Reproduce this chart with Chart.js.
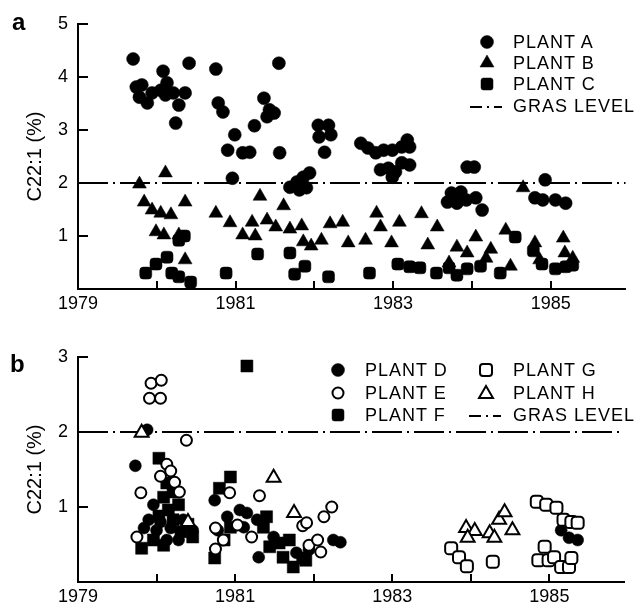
<!DOCTYPE html>
<html><head><meta charset="utf-8">
<script src="https://cdn.jsdelivr.net/npm/chart.js@4/dist/chart.umd.min.js"></script>
<style>
html,body{margin:0;padding:0;background:#fff;}
#wrap{position:relative;width:634px;height:605px;overflow:hidden;font-family:"Liberation Sans",Arial,Helvetica,sans-serif;color:#000;}
canvas{position:absolute;left:0;}
#ca{top:0;} #cb{top:320px;}
.lbl{position:absolute;font-size:18px;line-height:18px;letter-spacing:1px;white-space:nowrap;}
.panel{position:absolute;font-weight:bold;font-size:24px;line-height:24px;}
svg.m{position:absolute;left:0;top:0;overflow:visible;pointer-events:none;}
</style></head><body>
<div id="wrap">
<canvas id="ca" width="634" height="320"></canvas>
<canvas id="cb" width="634" height="285"></canvas>
<div class="panel" style="left:12px;top:10px;">a</div>
<div class="panel" style="left:10px;top:352px;">b</div>
<svg class="m" id="legsvg" width="634" height="605"></svg>
</div>
<script>
// ---------- DATA ----------
const xRange = [1979, 1985.95];
const grasLevel = 2;
const xTickValues = [1979, 1980, 1981, 1982, 1983, 1984, 1985];
const xTickLabels = [1979, 1981, 1983, 1985];
const yTicksA = [0, 1, 2, 3, 4, 5];
const yTicksB = [0, 1, 2, 3];
const yTitle = 'C22:1 (%)';

// Panel a
const plantA_x = [1979.70,1980.08,1980.41,1979.74,1979.81,1979.78,1979.88,1979.94,1980.05,1980.13,1980.11,1980.21,1980.28,1980.36,1980.24,1980.75,1980.78,1980.84,1980.90,1980.99,1980.96,1981.09,1981.18,1981.24,1981.36,1981.43,1981.49,1981.40,1981.55,1981.56,1981.69,1981.78,1981.86,1981.94,1981.81,1981.90,1982.05,1982.18,1982.21,1982.06,1982.13,1982.59,1982.68,1982.78,1982.88,1982.99,1983.18,1983.21,1983.11,1982.84,1982.94,1983.03,1983.11,1983.21,1982.99,1983.94,1984.03,1983.74,1983.86,1983.69,1983.81,1983.93,1984.05,1984.13,1984.93,1984.80,1984.90,1985.06,1985.19];
const plantA_y = [4.34,4.11,4.26,3.81,3.85,3.62,3.51,3.70,3.75,3.89,3.66,3.70,3.47,3.70,3.13,4.15,3.51,3.34,2.62,2.91,2.09,2.57,2.58,3.08,3.60,3.38,3.32,3.25,4.26,2.57,1.92,2.02,2.11,2.19,1.87,1.91,3.09,3.09,2.91,2.87,2.58,2.75,2.66,2.57,2.62,2.62,2.81,2.68,2.68,2.25,2.28,2.21,2.38,2.34,2.11,2.30,2.30,1.81,1.83,1.64,1.62,1.68,1.72,1.49,2.06,1.72,1.68,1.68,1.62];
const plantB_x = [1979.78,1980.11,1979.84,1979.94,1980.05,1980.18,1980.36,1979.99,1980.09,1980.28,1980.36,1980.75,1980.93,1981.09,1981.21,1981.25,1981.31,1981.40,1981.51,1981.61,1981.69,1981.84,1981.86,1981.96,1982.09,1982.20,1982.36,1982.43,1982.65,1982.79,1982.84,1982.98,1983.08,1983.36,1983.44,1983.56,1983.81,1983.94,1984.05,1984.24,1984.18,1983.71,1984.43,1984.49,1984.65,1984.80,1984.86,1985.16,1985.18,1985.28];
const plantB_y = [1.98,2.19,1.64,1.49,1.43,1.40,1.64,1.08,1.02,1.02,0.55,1.43,1.25,1.02,1.26,1.00,1.75,1.30,1.17,1.57,1.13,1.19,0.89,0.81,0.92,1.23,1.26,0.87,0.92,1.43,1.17,0.87,1.26,1.42,0.83,1.17,0.79,0.68,0.98,0.75,0.58,0.49,1.11,0.43,1.91,0.87,0.55,0.96,0.68,0.58];
const plantC_x = [1979.86,1979.99,1980.13,1980.19,1980.28,1980.43,1980.28,1980.35,1980.88,1981.28,1981.69,1981.75,1981.88,1982.18,1982.70,1983.06,1983.21,1983.34,1983.55,1983.71,1983.81,1983.94,1984.11,1984.36,1984.55,1984.78,1984.89,1985.06,1985.19,1985.28];
const plantC_y = [0.30,0.47,0.60,0.30,0.23,0.13,0.92,1.00,0.30,0.66,0.68,0.28,0.43,0.23,0.30,0.47,0.42,0.40,0.30,0.40,0.26,0.38,0.43,0.30,0.98,0.72,0.47,0.38,0.42,0.45];

// Panel b
const plantD_x = [1979.88,1979.73,1979.96,1979.90,1980.05,1980.18,1980.34,1980.46,1979.84,1980.13,1980.28,1980.00,1980.74,1980.90,1981.06,1981.15,1981.28,1980.78,1981.11,1981.30,1981.49,1981.78,1981.94,1982.25,1982.34,1985.15,1985.25,1985.36];
const plantD_y = [2.03,1.55,1.03,0.83,0.80,0.72,0.83,0.69,0.72,0.56,0.56,0.69,1.09,0.87,0.96,0.92,0.83,0.69,0.73,0.33,0.60,0.39,0.43,0.56,0.53,0.69,0.59,0.56];
const plantE_x = [1979.93,1980.06,1979.91,1980.05,1980.38,1980.13,1980.05,1980.18,1980.23,1980.29,1979.80,1979.75,1980.75,1980.93,1981.03,1980.85,1980.75,1981.21,1981.31,1981.86,1981.91,1982.13,1982.23,1981.94,1982.09,1982.05];
const plantE_y = [2.65,2.69,2.45,2.45,1.89,1.57,1.41,1.48,1.33,1.20,1.19,0.60,0.72,1.19,0.76,0.56,0.44,0.60,1.15,0.75,0.79,0.87,1.00,0.49,0.40,0.56];
const plantF_x = [1981.15,1980.03,1980.94,1980.80,1980.09,1980.21,1980.13,1980.28,1980.15,1980.03,1980.21,1980.40,1979.81,1980.31,1980.46,1979.96,1980.09,1980.74,1980.94,1981.36,1981.40,1980.86,1981.56,1981.69,1981.44,1981.61,1981.86,1981.74,1981.90];
const plantF_y = [2.88,1.65,1.40,1.25,1.13,1.20,1.32,1.03,0.96,0.88,0.83,0.77,0.45,0.67,0.60,0.56,0.49,0.32,0.73,0.73,0.87,0.56,0.52,0.56,0.47,0.33,0.32,0.20,0.29];
const plantG_x = [1983.75,1983.85,1983.95,1984.28,1984.84,1984.96,1985.09,1985.18,1985.28,1985.36,1984.94,1984.86,1984.99,1985.06,1985.15,1985.25,1985.28];
const plantG_y = [0.45,0.33,0.21,0.27,1.07,1.03,0.99,0.83,0.80,0.79,0.47,0.29,0.29,0.33,0.20,0.20,0.32];
const plantH_x = [1979.81,1980.40,1981.49,1981.75,1983.94,1984.05,1983.96,1984.24,1984.30,1984.36,1984.43,1984.53];
const plantH_y = [1.99,0.80,1.39,0.92,0.72,0.68,0.59,0.65,0.59,0.83,0.93,0.69];

const labelsA = ['PLANT A','PLANT B','PLANT C','GRAS LEVEL'];
const labelsB = ['PLANT D','PLANT E','PLANT F','PLANT G','PLANT H','GRAS LEVEL'];

// ---------- HELPERS ----------
const FONT = '"Liberation Sans", Arial, Helvetica, sans-serif';
const pts = (xs, ys) => xs.map((x, i) => ({x, y: ys[i]}));
const DASH = [30, 5, 2, 5];

const inwardTicks = {
  id: 'inwardTicks',
  afterDatasetsDraw(chart, args, opts) {
    const {ctx, chartArea: a, scales: {x, y}} = chart;
    ctx.save();
    ctx.strokeStyle = '#000';
    ctx.lineWidth = 2;
    x.ticks.forEach(t => {
      if (t.value > xRange[0]) {
        const px = Math.round(x.getPixelForValue(t.value));
        ctx.beginPath(); ctx.moveTo(px, a.bottom); ctx.lineTo(px, a.bottom - opts.xLen); ctx.stroke();
      }
    });
    y.ticks.forEach(t => {
      if (t.value > 0) {
        const py = Math.round(y.getPixelForValue(t.value));
        ctx.beginPath(); ctx.moveTo(a.left, py); ctx.lineTo(a.left + opts.yLen, py); ctx.stroke();
      }
    });
    ctx.restore();
  }
};

function makeScales(yTicks, xH, xPad) {
  return {
    x: {
      type: 'linear', min: xRange[0], max: xRange[1],
      grid: {display: true, drawOnChartArea: false, drawTicks: false},
      border: {display: true, color: '#000', width: 2},
      afterBuildTicks: s => { s.ticks = xTickValues.map(v => ({value: v})); },
      ticks: {
        autoSkip: false, maxRotation: 0, padding: xPad, color: '#000',
        font: {family: FONT, size: 18},
        callback: v => xTickLabels.includes(v) ? String(v) : ''
      },
      afterFit: s => { s.height = xH; }
    },
    y: {
      type: 'linear', min: 0, max: yTicks[yTicks.length - 1],
      grid: {display: true, drawOnChartArea: false, drawTicks: false},
      border: {display: true, color: '#000', width: 2},
      afterBuildTicks: s => { s.ticks = yTicks.map(v => ({value: v})); },
      ticks: {
        padding: 10, color: '#000',
        font: {family: FONT, size: 18},
        callback: v => v > 0 ? String(v) : ''
      },
      title: {display: true, text: yTitle, color: '#000', font: {family: FONT, size: 20}, padding: {top: 23, bottom: 0}},
      afterFit: s => { s.width = 78; }
    }
  };
}

function grasDataset(label) {
  return {
    type: 'line', label, data: [{x: xRange[0], y: grasLevel}, {x: xRange[1], y: grasLevel}],
    borderColor: '#000', borderWidth: 2, borderDash: DASH, pointRadius: 0, fill: false, order: 5, clip: false
  };
}

function scat(label, xs, ys, style, radius, filled, order) {
  return {
    type: 'scatter', label, data: pts(xs, ys),
    pointStyle: style, pointRadius: radius, pointHoverRadius: radius,
    backgroundColor: filled ? '#000' : '#fff', borderColor: '#000',
    borderWidth: filled ? 0.5 : 2, order, clip: false
  };
}

function opts(padTop, yTicks, xH, xPad) {
  return {
    responsive: false, animation: false, devicePixelRatio: 1,
    layout: {padding: {top: padTop, left: 0, right: 0, bottom: 0}},
    scales: makeScales(yTicks, xH, xPad),
    plugins: {legend: {display: false}, tooltip: {enabled: false}, inwardTicks: {xLen: 8, yLen: 10}}
  };
}

new Chart(document.getElementById('ca'), {
  type: 'scatter',
  data: {datasets: [
    scat(labelsA[0], plantA_x, plantA_y, 'circle', 6.5, true, 1),
    scat(labelsA[1], plantB_x, plantB_y, 'triangle', 8, true, 2),
    scat(labelsA[2], plantC_x, plantC_y, 'rectRounded', 7, true, 3),
    grasDataset(labelsA[3])
  ]},
  options: opts(24, yTicksA, 31, 4),
  plugins: [inwardTicks]
});

new Chart(document.getElementById('cb'), {
  type: 'scatter',
  data: {datasets: [
    scat(labelsB[0], plantD_x, plantD_y, 'circle', 6, true, 3),
    scat(labelsB[1], plantE_x, plantE_y, 'circle', 5.5, false, 1),
    scat(labelsB[2], plantF_x, plantF_y, 'rect', 8.5, true, 3),
    scat(labelsB[3], plantG_x, plantG_y, 'rectRounded', 7, false, 1),
    scat(labelsB[4], plantH_x, plantH_y, 'triangle', 8, false, 1),
    grasDataset(labelsB[5])
  ]},
  options: opts(37, yTicksB, 23, 4),
  plugins: [inwardTicks]
});

// ---------- LEGENDS (HTML text + SVG markers) ----------
const wrap = document.getElementById('wrap');
const svg = document.getElementById('legsvg');
const NS = 'http://www.w3.org/2000/svg';
function marker(shape, filled, cx, cy) {
  let el;
  const fill = filled ? '#000' : '#fff';
  if (shape === 'circle') {
    el = document.createElementNS(NS, 'circle');
    el.setAttribute('cx', cx); el.setAttribute('cy', cy); el.setAttribute('r', filled ? 6.5 : 5.5);
  } else if (shape === 'triangle') {
    el = document.createElementNS(NS, 'polygon');
    el.setAttribute('points', `${cx},${cy - 8} ${cx + 7},${cy + 4} ${cx - 7},${cy + 4}`);
  } else if (shape === 'square') {
    el = document.createElementNS(NS, 'rect');
    el.setAttribute('x', cx - 6); el.setAttribute('y', cy - 6); el.setAttribute('width', 12); el.setAttribute('height', 12);
    el.setAttribute('rx', filled ? 2.5 : 3);
  } else {
    el = document.createElementNS(NS, 'line');
    el.setAttribute('x1', cx - 17); el.setAttribute('x2', cx + 15); el.setAttribute('y1', cy); el.setAttribute('y2', cy);
    el.setAttribute('stroke-dasharray', '12,5,2,5');
    el.setAttribute('stroke', '#000'); el.setAttribute('stroke-width', 2);
    svg.appendChild(el); return;
  }
  el.setAttribute('fill', fill); el.setAttribute('stroke', '#000'); el.setAttribute('stroke-width', filled ? 0.5 : 2);
  svg.appendChild(el);
}
function legendItem(label, shape, filled, mx, my, tx, ttop) {
  marker(shape, filled, mx, my);
  const d = document.createElement('div');
  d.className = 'lbl'; d.style.left = tx + 'px'; d.style.top = ttop + 'px';
  d.textContent = label;
  wrap.appendChild(d);
}
// panel a
legendItem(labelsA[0], 'circle', true, 487, 42, 513, 33);
legendItem(labelsA[1], 'triangle', true, 487, 63, 513, 54);
legendItem(labelsA[2], 'square', true, 487, 84, 513, 75);
legendItem(labelsA[3], 'dash', true, 487, 107, 513, 97);
// panel b
legendItem(labelsB[0], 'circle', true, 338, 370, 365, 361);
legendItem(labelsB[1], 'circle', false, 338, 393, 365, 384);
legendItem(labelsB[2], 'square', true, 338, 415, 365, 406);
legendItem(labelsB[3], 'square', false, 486, 370, 513, 361);
legendItem(labelsB[4], 'triangle', false, 486, 394, 513, 384);
legendItem(labelsB[5], 'dash', true, 486, 416, 513, 406);
</script>
</body></html>
